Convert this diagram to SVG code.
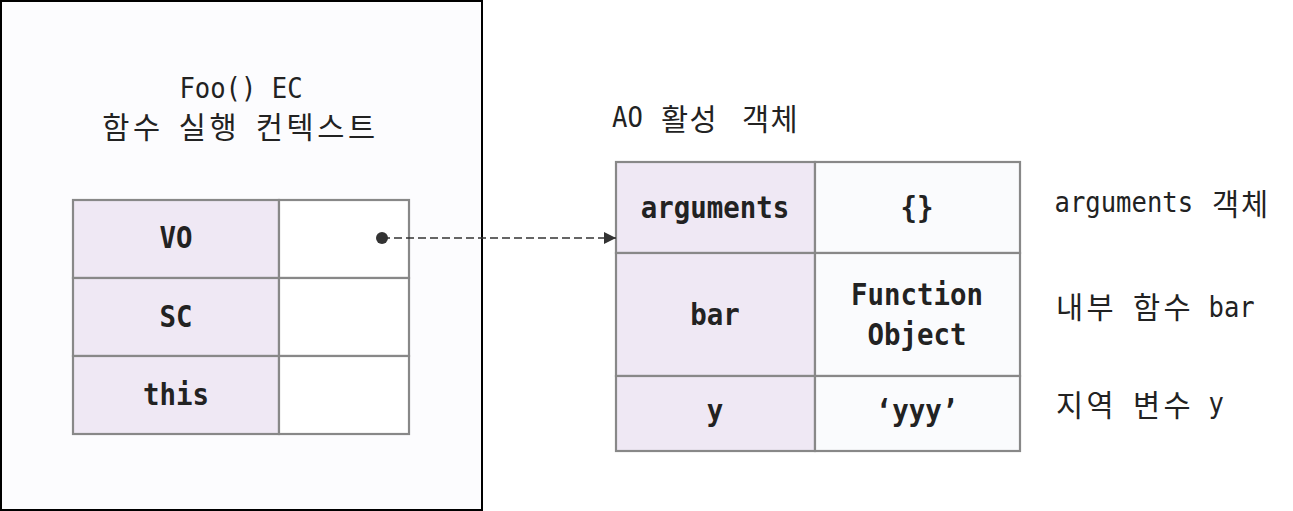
<svg xmlns="http://www.w3.org/2000/svg" width="1293" height="511" viewBox="0 0 1293 511">
<defs>
<style>
text{fill:#222;}
.lat{font-family:"DejaVu Sans Mono","Noto Sans CJK KR",monospace;font-size:28.5px;}
.ko{font-family:"Noto Sans CJK KR","Noto Sans CJK SC",sans-serif;font-size:29.5px;}
.b{font-family:"DejaVu Sans Mono","Noto Sans CJK KR",monospace;font-size:30px;font-weight:bold;text-anchor:middle;}
.k{fill:#efe8f4;stroke:#888;stroke-width:2.2;}
.v{fill:#fff;stroke:#888;stroke-width:2.2;}
.v2{fill:#fafbfd;stroke:#888;stroke-width:2.2;}
</style>
<marker id="ah" viewBox="0 0 12 12" refX="12" refY="6" markerWidth="12" markerHeight="12" markerUnits="userSpaceOnUse" orient="auto">
<path d="M0,0 L12,6 L0,12 Z" fill="#333"/>
</marker>
</defs>
<rect width="1293" height="511" fill="#fff"/>
<g id="foo-ec">
<rect x="1" y="1" width="481" height="509" fill="#fcfcfe" stroke="#000" stroke-width="2"/>
<text class="lat" x="241" y="98" text-anchor="middle" textLength="123.2" lengthAdjust="spacingAndGlyphs">Foo() EC</text>
<text class="ko" y="137.5" x="102.15 132.95 164 178.65 209.45 240.5 255.65 286.45 317.25 348.05">함수 실행 컨텍스트</text>
</g>
<g id="ec-table">
<rect class="k" x="73" y="200" width="206" height="78"/>
<rect class="v" x="279" y="200" width="130" height="78"/>
<rect class="k" x="73" y="278" width="206" height="78"/>
<rect class="v" x="279" y="278" width="130" height="78"/>
<rect class="k" x="73" y="356" width="206" height="78"/>
<rect class="v" x="279" y="356" width="130" height="78"/>
<text class="b" x="176" y="248" textLength="33" lengthAdjust="spacingAndGlyphs">VO</text>
<text class="b" x="176" y="327" textLength="33" lengthAdjust="spacingAndGlyphs">SC</text>
<text class="b" x="176" y="405" textLength="66" lengthAdjust="spacingAndGlyphs">this</text>
</g>
<g id="ao">
<text y="127"><tspan class="lat" x="612" textLength="30.8" lengthAdjust="spacingAndGlyphs">AO</tspan><tspan class="ko" y="129.5" x="648 661 689.5 720 742 770.5"> 활성 객체</tspan></text>
<rect class="k" x="616" y="162" width="199" height="91"/>
<rect class="v2" x="815" y="162" width="205" height="91"/>
<rect class="k" x="616" y="253" width="199" height="123"/>
<rect class="v2" x="815" y="253" width="205" height="123"/>
<rect class="k" x="616" y="376" width="199" height="75"/>
<rect class="v2" x="815" y="376" width="205" height="75"/>
<text class="b" x="715" y="218" textLength="148.5" lengthAdjust="spacingAndGlyphs">arguments</text>
<text class="b" x="917" y="218" textLength="33" lengthAdjust="spacingAndGlyphs">{}</text>
<text class="b" x="715" y="325" textLength="49.5" lengthAdjust="spacingAndGlyphs">bar</text>
<text class="b" x="917" y="305" textLength="132" lengthAdjust="spacingAndGlyphs">Function</text>
<text class="b" x="917" y="345" textLength="99" lengthAdjust="spacingAndGlyphs">Object</text>
<text class="b" x="715" y="421" textLength="16.5" lengthAdjust="spacingAndGlyphs">y</text>
<text class="b" x="917" y="421" textLength="82.5" lengthAdjust="spacingAndGlyphs">‘yyy’</text>
</g>
<g id="annotations">
<text y="212"><tspan class="lat" x="1054.5" textLength="138.6" lengthAdjust="spacingAndGlyphs">arguments</tspan><tspan class="ko" y="214.5" x="1210 1212 1241"> 객체</tspan></text>
<text y="317.5"><tspan class="ko" x="1056 1086.5 1116 1133 1163.5 1193">내부 함수 </tspan><tspan class="lat" y="316.5" x="1208.5" textLength="46.2" lengthAdjust="spacingAndGlyphs">bar</tspan></text>
<text y="416"><tspan class="ko" x="1056 1086.5 1116 1133 1163.5 1193">지역 변수 </tspan><tspan class="lat" y="413" x="1208.5" textLength="15.4" lengthAdjust="spacingAndGlyphs">y</tspan></text>
</g>
<g id="connectors">
<circle cx="382" cy="238" r="6" fill="#333"/>
<line x1="382" y1="238" x2="616" y2="238" stroke="#333" stroke-width="1.5" stroke-dasharray="8,4" marker-end="url(#ah)"/>
</g>
</svg>
